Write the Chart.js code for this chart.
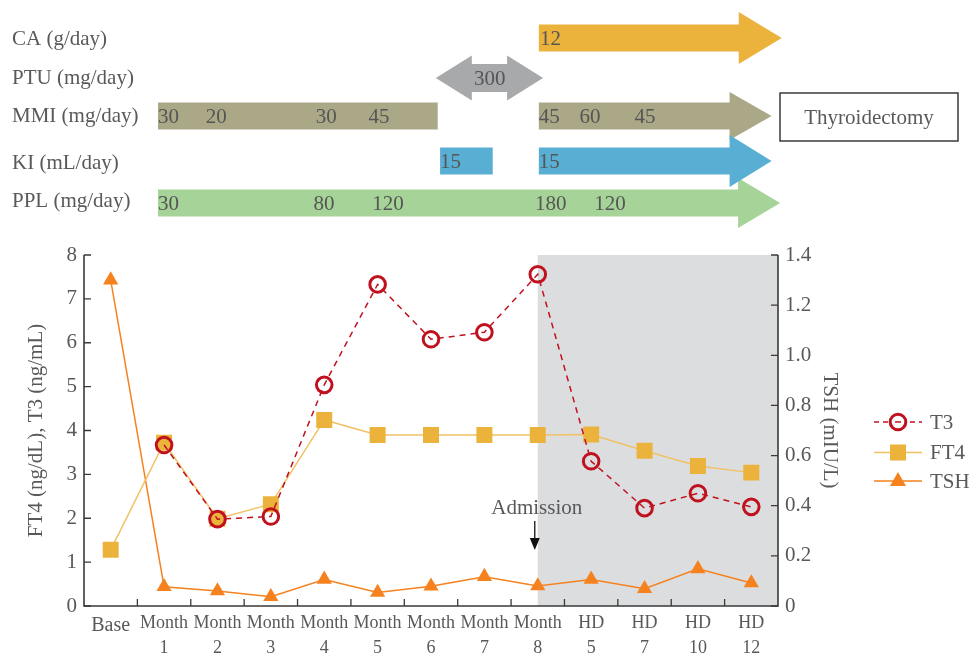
<!DOCTYPE html>
<html>
<head>
<meta charset="utf-8">
<script src="https://cdn.jsdelivr.net/npm/chart.js@4/dist/chart.umd.min.js"></script>
<style>
  html, body { margin: 0; padding: 0; background: #ffffff; }
  #wrap { width: 970px; height: 656px; position: relative; }
</style>
</head>
<body>
<div id="wrap"><canvas id="chart"></canvas></div>
<script>
// ---------------- data ----------------
const categories = ['Base', 'Month 1', 'Month 2', 'Month 3', 'Month 4', 'Month 5', 'Month 6',
                    'Month 7', 'Month 8', 'HD 5', 'HD 7', 'HD 10', 'HD 12'];
const t3Values  = [null, 3.67, 1.98, 2.04, 5.04, 7.33, 6.08, 6.24, 7.56, 3.30, 2.23, 2.57, 2.26];
const ft4Values = [1.28, 3.72, 1.99, 2.32, 4.24, 3.90, 3.90, 3.90, 3.90, 3.91, 3.54, 3.19, 3.04];
const tshValues = [1.30, 0.077, 0.060, 0.037, 0.106, 0.054, 0.079, 0.117, 0.080, 0.106, 0.069, 0.148, 0.092];
const leftTicks  = [0, 1, 2, 3, 4, 5, 6, 7, 8];
const rightTicks = [0, 0.2, 0.4, 0.6, 0.8, 1.0, 1.2, 1.4];
const seriesNames = ['T3', 'FT4', 'TSH'];

// treatment timeline (positions in category-index units of the x axis)
const drugRows = ['CA (g/day)', 'PTU (mg/day)', 'MMI (mg/day)', 'KI (mL/day)', 'PPL (mg/day)'];
const caSpans  = [[8.02, 12.57]];
const ptuSpans = [[6.09, 8.10]];
const mmiSpans = [[0.886, 6.126], [8.02, 12.38]];
const kiSpans  = [[6.17, 7.156], [8.02, 12.38]];
const pplSpans = [[0.886, 12.54]];
const caDoses  = [[8.04, '12']];
const ptuDoses = [[7.10, '300']];
const mmiDoses = [[0.886, '30'], [1.78, '20'], [3.84, '30'], [4.83, '45'], [8.02, '45'], [8.78, '60'], [9.81, '45']];
const kiDoses  = [[6.17, '15'], [8.02, '15']];
const pplDoses = [[0.886, '30'], [3.80, '80'], [4.90, '120'], [7.95, '180'], [9.06, '120']];
const admissionAt = 8;      // Month 8
const hospitalFrom = 8;     // shaded period starts at Month 8
const surgeryLabel = 'Thyroidectomy';
const admissionLabel = 'Admission';

// ---------------- style ----------------
const FONT = "'Liberation Serif', 'Times New Roman', serif";
const TXT = '#595959';
const AXIS = '#3a3a3a';
const C_T3 = '#c0111f', C_FT4 = '#ebb23c', C_FT4_LINE = '#f0c265', C_TSH = '#f5821f';

const rowStyle = {
  CA:  { y: 38,  labelY: 38,  color: '#ebb23c', bh: 27, hh: 26, hl: 43 },
  PTU: { y: 78,  labelY: 77,  color: '#a8a9ab', bh: 28, hh: 22.5, hl: 36 },
  MMI: { y: 116, labelY: 115, color: '#aba888', bh: 27, hh: 24, hl: 42 },
  KI:  { y: 161, labelY: 162, color: '#58afd3', bh: 27, hh: 26, hl: 42 },
  PPL: { y: 203, labelY: 200, color: '#a6d397', bh: 27, hh: 25, hl: 42 }
};

function rightArrow(ctx, x0, tip, yc, bh, hh, hl) {
  ctx.beginPath();
  ctx.moveTo(x0, yc - bh / 2);
  ctx.lineTo(tip - hl, yc - bh / 2);
  ctx.lineTo(tip - hl, yc - hh);
  ctx.lineTo(tip, yc);
  ctx.lineTo(tip - hl, yc + hh);
  ctx.lineTo(tip - hl, yc + bh / 2);
  ctx.lineTo(x0, yc + bh / 2);
  ctx.closePath();
  ctx.fill();
}
function doubleArrow(ctx, x0, x1, yc, bh, hh, hl) {
  ctx.beginPath();
  ctx.moveTo(x0, yc);
  ctx.lineTo(x0 + hl, yc - hh);
  ctx.lineTo(x0 + hl, yc - bh / 2);
  ctx.lineTo(x1 - hl, yc - bh / 2);
  ctx.lineTo(x1 - hl, yc - hh);
  ctx.lineTo(x1, yc);
  ctx.lineTo(x1 - hl, yc + hh);
  ctx.lineTo(x1 - hl, yc + bh / 2);
  ctx.lineTo(x0 + hl, yc + bh / 2);
  ctx.lineTo(x0 + hl, yc + hh);
  ctx.closePath();
  ctx.fill();
}

const overlay = {
  id: 'overlay',
  beforeDatasetsDraw(chart) {
    const { ctx, chartArea: a, scales } = chart;
    const x = scales.x, yl = scales.y, yr = scales.y1;
    ctx.save();
    // shaded hospital period
    const sx = x.getPixelForValue(hospitalFrom);
    ctx.fillStyle = '#dcdddf';
    ctx.fillRect(sx, a.top, a.right - sx, a.bottom - a.top);
    // axes
    ctx.strokeStyle = AXIS;
    ctx.lineWidth = 1.6;
    ctx.beginPath();
    ctx.moveTo(a.left, a.top); ctx.lineTo(a.left, a.bottom); ctx.lineTo(a.right, a.bottom); ctx.lineTo(a.right, a.top);
    ctx.stroke();
    ctx.lineWidth = 1.3;
    ctx.beginPath();
    leftTicks.forEach(v => { const y = yl.getPixelForValue(v); ctx.moveTo(a.left, y); ctx.lineTo(a.left + 7, y); });
    rightTicks.forEach(v => { const y = yr.getPixelForValue(v); ctx.moveTo(a.right, y); ctx.lineTo(a.right - 7, y); });
    for (let i = 1; i < categories.length; i++) {
      const px = x.getPixelForValue(i - 0.5);
      ctx.moveTo(px, a.bottom); ctx.lineTo(px, a.bottom - 7);
    }
    ctx.stroke();
    ctx.restore();
  },
  afterDraw(chart) {
    const { ctx, chartArea: a, scales } = chart;
    const x = scales.x;
    const px = v => x.getPixelForValue(v);
    ctx.save();
    // ---- timeline ----
    ctx.font = '21px ' + FONT;
    ctx.textBaseline = 'middle';
    ctx.textAlign = 'left';
    const rows = [
      ['CA', caSpans, caDoses], ['PTU', ptuSpans, ptuDoses], ['MMI', mmiSpans, mmiDoses],
      ['PPL', pplSpans, pplDoses], ['KI', kiSpans, kiDoses]
    ];
    rows.forEach(([key, spans]) => {
      const s = rowStyle[key];
      ctx.fillStyle = s.color;
      spans.forEach((sp, i) => {
        const x0 = px(sp[0]), x1 = px(sp[1]);
        if (key === 'PTU') doubleArrow(ctx, x0, x1, s.y, s.bh, s.hh, s.hl);
        else if (i === spans.length - 1 && sp[1] > hospitalFrom + 1) rightArrow(ctx, x0, x1, s.y, s.bh, s.hh, s.hl);
        else ctx.fillRect(x0, s.y - s.bh / 2, x1 - x0, s.bh);
      });
    });
    // dose numbers
    ctx.fillStyle = '#555555';
    rows.forEach(([key, spans, doses]) => {
      const s = rowStyle[key];
      doses.forEach(([pos, txt]) => {
        if (key === 'PTU') { ctx.textAlign = 'center'; ctx.fillText(txt, px(pos), s.y + 1); ctx.textAlign = 'left'; }
        else ctx.fillText(txt, px(pos), s.y + 1);
      });
    });
    // row labels
    ctx.fillStyle = TXT;
    drugRows.forEach((lab) => {
      const key = lab.split(' ')[0];
      ctx.fillText(lab, 12, rowStyle[key].labelY + 1);
    });
    // thyroidectomy box
    const bx = a.right + 2, by = 93, bw = 958 - bx, bhh = 48;
    ctx.strokeStyle = '#3a3a3a'; ctx.lineWidth = 1.5;
    ctx.strokeRect(bx, by, bw, bhh);
    ctx.fillStyle = TXT; ctx.textAlign = 'center';
    ctx.fillText(surgeryLabel, bx + bw / 2, by + bhh / 2 + 1);

    // ---- admission marker ----
    const ax = px(admissionAt) - 3;
    ctx.fillStyle = TXT;
    ctx.fillText(admissionLabel, px(admissionAt) - 1, 508);
    ctx.strokeStyle = '#111'; ctx.lineWidth = 1.3;
    ctx.beginPath(); ctx.moveTo(ax, 521); ctx.lineTo(ax, 541); ctx.stroke();
    ctx.fillStyle = '#111';
    ctx.beginPath(); ctx.moveTo(ax - 5, 538); ctx.lineTo(ax + 5, 538); ctx.lineTo(ax, 550); ctx.closePath(); ctx.fill();

    // ---- legend ----
    const lx0 = a.right + 96, lx1 = a.right + 144, mx = a.right + 120, tx = a.right + 152;
    const ly = [422, 452.5, 481];
    ctx.textAlign = 'left';
    ctx.font = '21px ' + FONT;
    // T3
    ctx.strokeStyle = C_T3; ctx.lineWidth = 1.5; ctx.setLineDash([5, 4]);
    ctx.beginPath(); ctx.moveTo(lx0, ly[0]); ctx.lineTo(lx1, ly[0]); ctx.stroke();
    ctx.setLineDash([]);
    ctx.fillStyle = '#fff'; ctx.lineWidth = 3;
    ctx.beginPath(); ctx.arc(mx, ly[0], 7.8, 0, Math.PI * 2); ctx.fill(); ctx.stroke();
    ctx.lineWidth = 1.5;
    ctx.beginPath(); ctx.moveTo(mx - 3, ly[0]); ctx.lineTo(mx + 3, ly[0]); ctx.stroke();
    // FT4
    ctx.strokeStyle = C_FT4_LINE; ctx.lineWidth = 1.5;
    ctx.beginPath(); ctx.moveTo(lx0, ly[1]); ctx.lineTo(lx1, ly[1]); ctx.stroke();
    ctx.fillStyle = C_FT4; ctx.fillRect(mx - 8, ly[1] - 8, 16, 16);
    // TSH
    ctx.strokeStyle = C_TSH;
    ctx.beginPath(); ctx.moveTo(lx0, ly[2]); ctx.lineTo(lx1, ly[2]); ctx.stroke();
    ctx.fillStyle = C_TSH;
    ctx.beginPath(); ctx.moveTo(mx, ly[2] - 9); ctx.lineTo(mx + 8, ly[2] + 5); ctx.lineTo(mx - 8, ly[2] + 5); ctx.closePath(); ctx.fill();
    ctx.fillStyle = TXT;
    seriesNames.forEach((n, i) => ctx.fillText(n, tx, ly[i] + 1));
    ctx.restore();
  }
};

new Chart(document.getElementById('chart'), {
  type: 'line',
  data: {
    labels: categories,
    datasets: [
      { label: 'T3', data: t3Values, yAxisID: 'y', borderColor: C_T3, borderWidth: 1.5, borderDash: [6, 5],
        pointStyle: 'circle', pointRadius: 7.8, pointBorderWidth: 3, pointBorderColor: C_T3,
        pointBackgroundColor: 'rgba(0,0,0,0)', tension: 0, fill: false },
      { label: 'FT4', data: ft4Values, yAxisID: 'y', borderColor: C_FT4_LINE, borderWidth: 1.5,
        pointStyle: 'rect', pointRadius: 11.3, pointBorderWidth: 0, pointBackgroundColor: C_FT4,
        tension: 0, fill: false },
      { label: 'TSH', data: tshValues, yAxisID: 'y1', borderColor: C_TSH, borderWidth: 1.5,
        pointStyle: 'triangle', pointRadius: 8.8, pointBorderWidth: 0, pointBackgroundColor: C_TSH,
        tension: 0, fill: false }
    ]
  },
  options: {
    responsive: true,
    maintainAspectRatio: false,
    animation: false,
    events: [],
    layout: { padding: { top: 255, right: 120, bottom: 0, left: 0 } },
    plugins: { legend: { display: false }, tooltip: { enabled: false } },
    scales: {
      x: {
        type: 'category', offset: true,
        grid: { display: false, drawTicks: false }, border: { display: false },
        ticks: {
          autoSkip: false, maxRotation: 0, minRotation: 0, padding: 5, color: TXT,
          font: (c) => c.index === 0 ? { family: FONT, size: 20, lineHeight: 1.5 } : { family: FONT, size: 18, lineHeight: 1.39 },
          callback: (v, i) => categories[i].indexOf(' ') > 0 ? categories[i].split(' ') : categories[i]
        },
        afterFit: s => { s.height = 50; }
      },
      y: {
        position: 'left', min: 0, max: 8,
        grid: { display: false, drawTicks: false }, border: { display: false },
        ticks: { stepSize: 1, padding: 7, color: TXT, font: { family: FONT, size: 21 } },
        title: { display: true, text: 'FT4 (ng/dL), T3 (ng/mL)', color: TXT, font: { family: FONT, size: 21 }, padding: { top: 24, bottom: 0 } },
        afterFit: s => { s.width = 84; }
      },
      y1: {
        position: 'right', min: 0, max: 1.4,
        grid: { display: false, drawTicks: false }, border: { display: false },
        ticks: { stepSize: 0.2, padding: 7, color: TXT, font: { family: FONT, size: 21 },
                 callback: v => (Math.abs(v) < 1e-9 ? '0' : Number(v).toFixed(1)) },
        title: { display: true, text: 'TSH (mIU/L)', color: TXT, font: { family: FONT, size: 21 }, padding: { top: 8, bottom: 0 } },
        afterFit: s => { s.width = 72; }
      }
    }
  },
  plugins: [overlay]
});
</script>
</body>
</html>
